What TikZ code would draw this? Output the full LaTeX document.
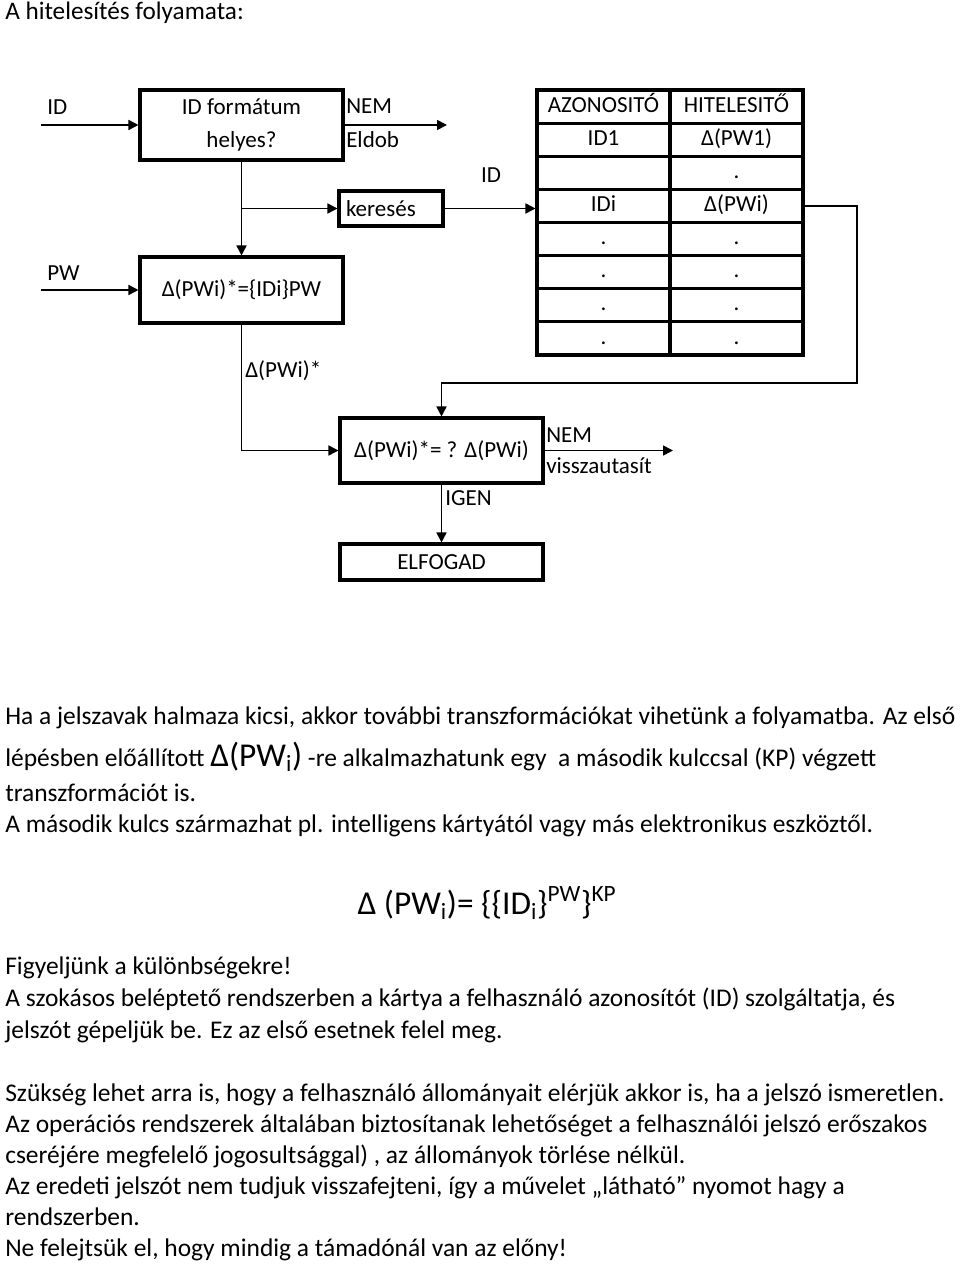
\documentclass[tikz,border=0pt]{standalone}
\usepackage{fontspec}
\setmainfont{Carlito}
\usetikzlibrary{arrows.meta}

\begin{document}
\begin{tikzpicture}[x=0.75pt,y=0.75pt,yscale=-1,xscale=1,
    box/.style={draw,line width=2.3pt,inner sep=0pt,align=center,font=\fontsize{17.25}{24.75}\selectfont},
    cell/.style={draw,line width=2.3pt,minimum width=99.75pt,minimum height=24.85pt,inner sep=0pt,text height=12pt,text depth=3.5pt,font=\fontsize{17.25}{21}\selectfont},
    lbl/.style={inner sep=0pt,anchor=west,text height=12pt,text depth=3.5pt,font=\fontsize{17.25}{21}\selectfont},
    txt/.style={inner sep=0pt,anchor=west,text height=14pt,text depth=4.5pt,font=\fontsize{19.1}{23}\selectfont},
    arr/.style={line width=1.2pt,-{Triangle[length=7.5pt,width=7.5pt]}}]
    \useasboundingbox (0,0) rectangle (960,1266);
    % Text Node
    \node (title) [inner sep=0pt,anchor=west,font=\fontsize{18.9}{23}\selectfont] at (5,13) {A hitelesítés folyamata:};
    %Shape: Rectangle [id:box1]
    \node (box1) [box,minimum width=152.25pt,minimum height=52.5pt] at (241.5,125) {ID formátum\\helyes?};
    %Shape: Rectangle [id:box2]
    \node (box2) [box,minimum width=152.25pt,minimum height=49.5pt] at (241.5,290) {Δ(PWi)*=\{IDi\}PW};
    %Shape: Rectangle [id:keres]
    \node (keres) [box,minimum width=78pt,minimum height=26.25pt,text width=67.5pt,align=left] at (391,208.5) {keresés};
    %Shape: Rectangle [id:box3]
    \node (box3) [box,minimum width=152.25pt,minimum height=48.75pt] at (441.5,450.5) {Δ(PWi)*= ? Δ(PWi)};
    %Shape: Rectangle [id:elf]
    \node (elf) [box,minimum width=152.25pt,minimum height=27pt] at (441.5,562) {ELFOGAD};
    %Table
    \foreach \r/\a/\h in {1/AZONOSITÓ/HITELESITŐ,2/ID1/{Δ(PW1)},3/{}/.,4/IDi/{Δ(PWi)},5/./.,6/./.,7/./.,8/./.}{
        \node (az\r) [cell] at (603.5,{90+33.125*(\r-0.5)}) {\a};
        \node (hi\r) [cell] at (736.5,{90+33.125*(\r-0.5)}) {\h};
    }
    %Straight Lines
    \coordinate (idin) at (41,125);
    \coordinate (pwin) at (41,290);
    \coordinate (nem1) at (447,125);
    \coordinate (nem3) at (673,450.5);
    \coordinate (br) at (box1.south |- keres.west);
    \coordinate (fbk) at (857,383);
    \draw [arr] (idin) -- (box1);
    \draw [arr] (pwin) -- (box2);
    \draw [arr] (box1.east) -- (nem1);
    \draw [arr] (box1) -- (box2);
    \draw [arr] (br) -- (keres.west);
    \draw [arr] (keres.east) -- (keres.east -| az4.west);
    \draw [arr] (box2.south) |- (box3.west);
    \draw [arr] (hi4.east) -| (fbk) -| (box3.north);
    \draw [arr] (box3.east) -- (nem3);
    \draw [arr] (box3) -- (elf);
    % Text Node
    \node (lid) [lbl] at (47,109) {ID};
    \node (lpw) [lbl] at (47,275) {PW};
    \node (lnem1) [lbl] at (346,108) {NEM};
    \node (ldob) [lbl] at (346,142) {Eldob};
    \node (lid2) [lbl,anchor=center] at (491,177) {ID};
    \node (lpws) [lbl] at (245,372) {Δ(PWi)*};
    \node (lnem3) [lbl] at (546,437) {NEM};
    \node (lvissza) [lbl] at (546,468) {visszautasít};
    \node (ligen) [lbl] at (445,500) {IGEN};
    % Text Node
    \node (t1) [txt] at (5,718) {Ha a jelszavak halmaza kicsi, akkor további transzformációkat vihetünk a folyamatba. Az első};
    \node (t2) [txt] at (5,760) {lépésben előállított {\fontsize{25}{30}\selectfont Δ(PW\textsubscript{i})} -re alkalmazhatunk egy~ a második kulccsal (KP) végzett};
    \node (t3) [txt] at (5,795) {transzformációt is.};
    \node (t4) [txt] at (5,826) {A második kulcs származhat pl. intelligens kártyától vagy más elektronikus eszköztől.};
    % Text Node
    \node (fml) [inner sep=0pt,font=\fontsize{25}{30}\selectfont] at (487,903) {Δ (PW\textsubscript{i})= \{\{ID\textsubscript{i}\}\textsuperscript{PW}\}\textsuperscript{KP}};
    % Text Node
    \node (t5) [txt] at (5,968) {Figyeljünk a különbségekre!};
    \node (t6) [txt] at (5,1000) {A szokásos beléptető rendszerben a kártya a felhasználó azonosítót (ID) szolgáltatja, és};
    \node (t7) [txt] at (5,1032) {jelszót gépeljük be. Ez az első esetnek felel meg.};
    \node (t8) [txt] at (5,1095) {Szükség lehet arra is, hogy a felhasználó állományait elérjük akkor is, ha a jelszó ismeretlen.};
    \node (t9) [txt] at (5,1126) {Az operációs rendszerek általában biztosítanak lehetőséget a felhasználói jelszó erőszakos};
    \node (t10) [txt] at (5,1157) {cseréjére megfelelő jogosultsággal) , az állományok törlése nélkül.};
    \node (t11) [txt] at (5,1188) {Az eredeti jelszót nem tudjuk visszafejteni, így a művelet „látható” nyomot hagy a};
    \node (t12) [txt] at (5,1219) {rendszerben.};
    \node (t13) [txt] at (5,1250) {Ne felejtsük el, hogy mindig a támadónál van az előny!};
\end{tikzpicture}
\end{document}
